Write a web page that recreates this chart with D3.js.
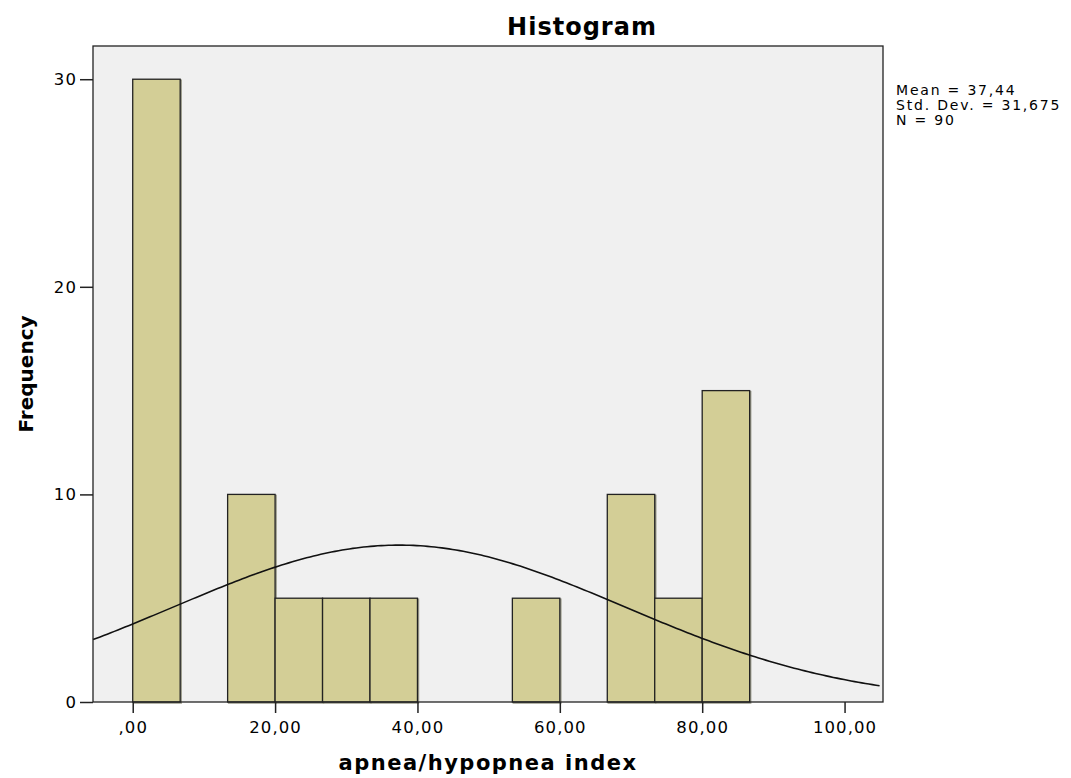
<!DOCTYPE html>
<meta charset="utf-8">
<script src="https://d3js.org/d3.v7.min.js"></script>
<style>
body { margin: 0; background: #fff; }
text { font-family: "DejaVu Sans", Verdana, sans-serif; fill: #000; }
.tick text { font-size: 16.5px; letter-spacing: 1.1px; }
.axis-title { font-weight: bold; font-size: 21px; letter-spacing: 1.5px; }
</style>
<body>
<div id="chart"></div>
<script>
// histogram bins (lower edge, upper edge) and counts
var binStart = [0, 13.333, 20, 26.667, 33.333, 53.333, 66.667, 73.333, 80];
var binEnd   = [6.667, 20, 26.667, 33.333, 40, 60, 73.333, 80, 86.667];
var counts   = [30, 10, 5, 5, 5, 5, 10, 5, 15];
var xTicks = [0, 20, 40, 60, 80, 100];
var xTickLabels = [",00", "20,00", "40,00", "60,00", "80,00", "100,00"];
var yTicks = [0, 10, 20, 30];
var statsLines = ["Mean = 37,44", "Std. Dev. = 31,675", "N = 90"];
var mean = 37.44, sd = 31.675, n = 90, binWidth = 6.667;

var W = 1071, H = 778;
var margin = {top: 46, right: 188, bottom: 76, left: 93};
var width = W - margin.left - margin.right;
var height = H - margin.top - margin.bottom;

var svg = d3.select("#chart").append("svg")
    .attr("width", W).attr("height", H);

var g = svg.append("g")
    .attr("transform", "translate(" + margin.left + "," + margin.top + ")");

var x = d3.scaleLinear().domain([-5.58, 105.4]).range([0, width]);
var y = d3.scaleLinear().domain([0, 31.6]).range([height, 0]);

g.append("rect")
    .attr("width", width).attr("height", height)
    .attr("fill", "#f0f0f0");

var bars = binStart.map(function(s, i) { return {s: s, e: binEnd[i], c: counts[i]}; });

// soft shadow then the bar
g.selectAll(".shadow").data(bars).enter().append("rect")
    .attr("x", function(d) { return x(d.s) + 1; })
    .attr("y", function(d) { return y(d.c) + 1; })
    .attr("width", function(d) { return x(d.e) - x(d.s); })
    .attr("height", function(d) { return y(0) - y(d.c); })
    .attr("fill", "none").attr("stroke", "#9a9a8a").attr("stroke-width", 1.5);

g.selectAll(".bar").data(bars).enter().append("rect")
    .attr("class", "bar")
    .attr("x", function(d) { return x(d.s); })
    .attr("y", function(d) { return y(d.c); })
    .attr("width", function(d) { return x(d.e) - x(d.s); })
    .attr("height", function(d) { return y(0) - y(d.c); })
    .attr("fill", "#d3ce96").attr("stroke", "#222").attr("stroke-width", 1.3);

// normal curve
var pts = d3.range(-5.58, 105.41, 0.5).map(function(v) {
  var z = (v - mean) / sd;
  return [v, n * binWidth * Math.exp(-0.5 * z * z) / (sd * Math.sqrt(2 * Math.PI))];
});
g.append("path").datum(pts)
    .attr("fill", "none").attr("stroke", "#111").attr("stroke-width", 1.6)
    .attr("d", d3.line().x(function(d) { return x(d[0]); }).y(function(d) { return y(d[1]); }));

// frame
g.append("rect")
    .attr("width", width).attr("height", height)
    .attr("fill", "none").attr("stroke", "#222").attr("stroke-width", 1.3);

var xAxis = g.append("g")
    .attr("transform", "translate(0," + height + ")")
    .call(d3.axisBottom(x).tickValues(xTicks).tickSize(11).tickPadding(8)
      .tickFormat(function(d, i) { return xTickLabels[i]; }));
xAxis.select(".domain").remove();
xAxis.selectAll("line").attr("stroke", "#222").attr("stroke-width", 1.5);

var yAxis = g.append("g")
    .call(d3.axisLeft(y).tickValues(yTicks).tickSize(13).tickPadding(3));
yAxis.select(".domain").remove();
yAxis.selectAll("line").attr("stroke", "#222").attr("stroke-width", 1.5);

svg.append("text")
    .attr("x", 582).attr("y", 35)
    .attr("text-anchor", "middle")
    .style("font-weight", "bold").style("font-size", "24px").style("letter-spacing", "1px")
    .text("Histogram");

svg.append("text")
    .attr("class", "axis-title")
    .attr("x", 488).attr("y", 770)
    .attr("text-anchor", "middle")
    .text("apnea/hypopnea index");

svg.append("text")
    .attr("class", "axis-title")
    .style("letter-spacing", "0px").style("font-size", "20px")
    .attr("transform", "translate(33,374) rotate(-90)")
    .attr("text-anchor", "middle")
    .text("Frequency");

svg.append("g").selectAll("text").data(statsLines).enter().append("text")
    .attr("x", 896)
    .attr("y", function(d, i) { return 95 + i * 15; })
    .style("font-size", "14px").style("letter-spacing", "1.8px")
    .text(function(d) { return d; });
</script>
</body>
